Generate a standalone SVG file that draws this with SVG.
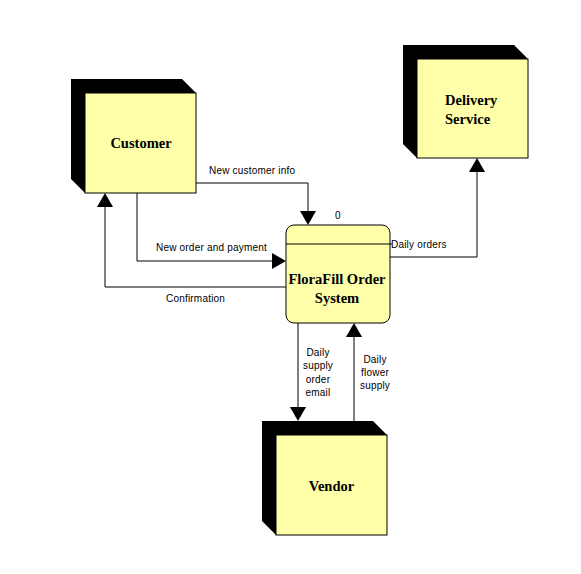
<svg xmlns="http://www.w3.org/2000/svg" width="581" height="574" viewBox="0 0 581 574">
<style>
.shadow{fill:#000}
.face{fill:#ffffaa;stroke:#000;stroke-width:1}
.nt{font-family:"Liberation Serif","Times New Roman",serif;font-weight:bold;font-size:14.5px;fill:#000}
.lbl{font-family:"Liberation Sans",Arial,sans-serif;font-size:10px;fill:#000;letter-spacing:0.2px}
.ln{fill:none;stroke:#000;stroke-width:1}
.ah{fill:#000}
</style>
<rect width="581" height="574" fill="#fff"/>
<g id="customer">
<polygon class="shadow" points="71,79 182,79 196,93 196,193 85,193 71,179"/>
<rect class="face" x="85" y="93" width="111" height="100"/>
<text class="nt" x="141" y="148" text-anchor="middle">Customer</text>
</g>
<g id="delivery">
<polygon class="shadow" points="403,45 514,45 528,59 528,158 417,158 403,144"/>
<rect class="face" x="417" y="59" width="111" height="99"/>
<text class="nt" x="445" y="105">Delivery</text>
<text class="nt" x="445" y="124">Service</text>
</g>
<g id="vendor">
<polygon class="shadow" points="262,421 373,421 387,435 387,535 276,535 262,521"/>
<rect class="face" x="276" y="435" width="111" height="100"/>
<text class="nt" x="331.5" y="491" text-anchor="middle">Vendor</text>
</g>
<g id="process">
<rect class="face" x="286" y="225" width="104" height="98" rx="8" ry="8"/>
<line class="ln" x1="286" y1="244" x2="392" y2="244"/>
<text class="lbl" x="338" y="219" text-anchor="middle">0</text>
<text class="nt" x="337" y="284" text-anchor="middle">FloraFill Order</text>
<text class="nt" x="337" y="303" text-anchor="middle">System</text>
</g>
<g id="connectors">
<polyline class="ln" points="196,183 308,183 308,212"/>
<polygon class="ah" points="300,211 316,211 308,225"/>
<text class="lbl" x="209" y="174">New customer info</text>
<polyline class="ln" points="137,193 137,261 273,261"/>
<polygon class="ah" points="272,253 272,269 286,261"/>
<text class="lbl" x="156" y="251">New order and payment</text>
<polyline class="ln" points="286,287 105,287 105,206"/>
<polygon class="ah" points="97,207 113,207 105,193"/>
<text class="lbl" x="166" y="302">Confirmation</text>
<polyline class="ln" points="390,257 477,257 477,171"/>
<polygon class="ah" points="469,172 485,172 477,158"/>
<text class="lbl" x="391" y="248">Daily orders</text>
<line class="ln" x1="298" y1="323" x2="298" y2="408"/>
<polygon class="ah" points="290,407 306,407 298,421"/>
<text class="lbl" x="318" y="356" text-anchor="middle">Daily</text>
<text class="lbl" x="318" y="369" text-anchor="middle">supply</text>
<text class="lbl" x="318" y="383" text-anchor="middle">order</text>
<text class="lbl" x="318" y="396" text-anchor="middle">email</text>
<line class="ln" x1="354" y1="421" x2="354" y2="336"/>
<polygon class="ah" points="346,337 362,337 354,323"/>
<text class="lbl" x="375" y="363" text-anchor="middle">Daily</text>
<text class="lbl" x="375" y="376" text-anchor="middle">flower</text>
<text class="lbl" x="375" y="389" text-anchor="middle">supply</text>
</g>
</svg>
